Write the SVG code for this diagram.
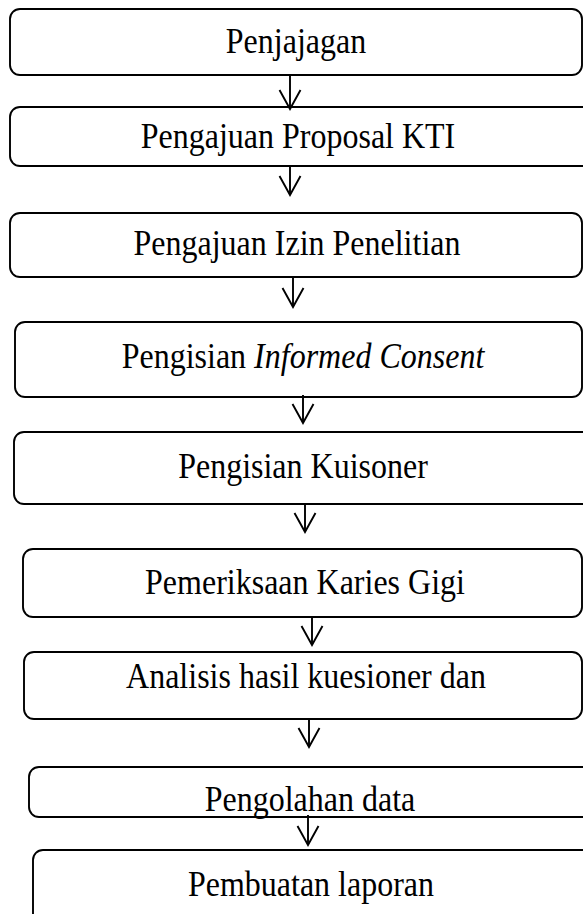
<svg xmlns="http://www.w3.org/2000/svg" width="583" height="914" viewBox="0 0 583 914">
<style>
.box{fill:#fff;stroke:#000;stroke-width:1.9}
.t{font-family:"Liberation Serif","Times New Roman",serif;font-size:32px;fill:#000;text-anchor:middle}
.c{fill:none;stroke:#000;stroke-width:1.9}
</style>
<defs>
<marker id="ah" markerWidth="24" markerHeight="24" refX="20" refY="12" orient="auto" markerUnits="userSpaceOnUse" viewBox="0 0 24 24">
<path d="M1,1.5 L20,12 L1,22.5" fill="none" stroke="#000" stroke-width="1.9"/>
</marker>
</defs>
<rect width="583" height="914" fill="#fff"/>
<g id="n1"><rect class="box" x="10" y="9" width="572" height="66" rx="10"/><text class="t" transform="translate(296,53) scale(1,1.12)">Penjajagan</text></g>
<g id="n2"><rect class="box" x="10" y="107" width="590" height="59" rx="10"/><text class="t" transform="translate(298,148) scale(1,1.12)">Pengajuan Proposal KTI</text></g>
<g id="n3"><rect class="box" x="10" y="213" width="572" height="64" rx="10"/><text class="t" transform="translate(297,255) scale(1,1.12)">Pengajuan Izin Penelitian</text></g>
<g id="n4"><rect class="box" x="15" y="322" width="567" height="75" rx="10"/><text class="t" transform="translate(303,368) scale(1,1.12)">Pengisian <tspan font-style="italic">Informed Consent</tspan></text></g>
<g id="n5"><rect class="box" x="14" y="432" width="590" height="72" rx="10"/><text class="t" transform="translate(303,478) scale(1,1.12)">Pengisian Kuisoner</text></g>
<g id="n6"><rect class="box" x="23" y="549" width="559" height="68" rx="10"/><text class="t" transform="translate(305,594) scale(1,1.12)">Pemeriksaan Karies Gigi</text></g>
<g id="n7"><rect class="box" x="24" y="652" width="558" height="67" rx="10"/><text class="t" transform="translate(306,688) scale(1,1.12)">Analisis hasil kuesioner dan</text></g>
<g id="n8"><rect class="box" x="29" y="767" width="580" height="50" rx="10"/><text class="t" transform="translate(310,811) scale(1,1.12)">Pengolahan data</text></g>
<g id="n9"><rect class="box" x="33" y="850" width="580" height="90" rx="10"/><text class="t" transform="translate(311,896) scale(1,1.12)">Pembuatan laporan</text></g>
<g id="connectors">
<line class="c" x1="290" y1="75" x2="290" y2="109" marker-end="url(#ah)"/>
<line class="c" x1="290" y1="166" x2="290" y2="195" marker-end="url(#ah)"/>
<line class="c" x1="293" y1="277" x2="293" y2="307" marker-end="url(#ah)"/>
<line class="c" x1="303" y1="395" x2="303" y2="423" marker-end="url(#ah)"/>
<line class="c" x1="305" y1="504" x2="305" y2="532" marker-end="url(#ah)"/>
<line class="c" x1="312" y1="617" x2="312" y2="645" marker-end="url(#ah)"/>
<line class="c" x1="309" y1="719" x2="309" y2="747" marker-end="url(#ah)"/>
<line class="c" x1="308" y1="815" x2="308" y2="845" marker-end="url(#ah)"/>
</g>
</svg>
